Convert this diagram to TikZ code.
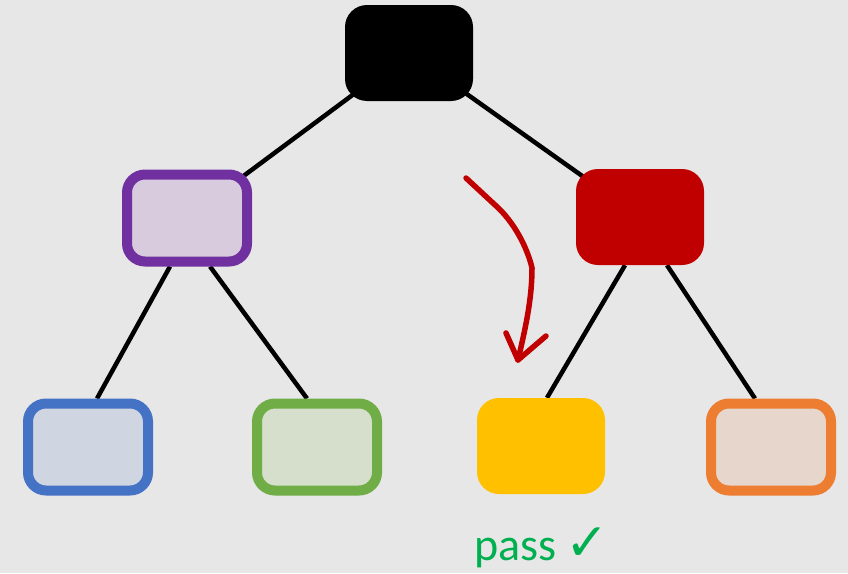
\documentclass[tikz,border=0pt]{standalone}
\usepackage{fontspec}
\setmainfont{Carlito}
\newfontfamily\symfont{DejaVu Sans}
\pgfdeclarelayer{bg}
\pgfdeclarelayer{edges}
\pgfsetlayers{bg,edges,main}
\definecolor{bgc}{HTML}{E7E7E7}
\definecolor{pur}{HTML}{7030A0}
\definecolor{purf}{HTML}{D8CBDD}
\definecolor{blu}{HTML}{4472C4}
\definecolor{bluf}{HTML}{CFD5E1}
\definecolor{grn}{HTML}{70AD47}
\definecolor{grnf}{HTML}{D5DFCC}
\definecolor{org}{HTML}{ED7D31}
\definecolor{orgf}{HTML}{E7D6CB}
\definecolor{yel}{HTML}{FFC000}
\definecolor{redc}{HTML}{C00000}
\definecolor{passg}{HTML}{00B050}
\tikzset{
  x=1pt, y=-1pt,
  solidbox/.style={rectangle, rounded corners=22pt, minimum width=128pt, minimum height=96pt, inner sep=0pt},
  ringbox/.style={rectangle, rounded corners=18pt, minimum width=120pt, minimum height=87pt, inner sep=0pt, line width=10pt},
  edge/.style={line width=4.5pt, black},
}
\begin{document}
\begin{tikzpicture}
\begin{pgfonlayer}{bg}
\fill[bgc] (0,0) rectangle (848,573);
\end{pgfonlayer}
\useasboundingbox (0,0) rectangle (848,573);

\node[solidbox, fill=black] (root) at (409,53) {};
\node[ringbox, draw=pur, fill=purf] (L) at (187,218) {};
\node[solidbox, fill=redc] (R) at (640,217) {};
\node[ringbox, draw=blu, fill=bluf] (LL) at (88,447) {};
\node[ringbox, draw=grn, fill=grnf] (LR) at (317,447) {};
\node[solidbox, fill=yel] (RL) at (541,446) {};
\node[ringbox, draw=org, fill=orgf] (RR) at (771,447) {};

\begin{pgfonlayer}{edges}
\draw[edge] (root.center) -- (L.center);
\draw[edge] (root.center) -- (R.center);
\draw[edge] ([xshift=-17pt]L.south) -- ([xshift=9pt]LL.north);
\draw[edge] ([xshift=23pt]L.south) -- ([xshift=-10pt]LR.north);
\draw[edge] ([xshift=-15pt]R.south) -- ([xshift=6pt]RL.north);
\draw[edge] ([xshift=27pt]R.south) -- ([xshift=-16pt]RR.north);
\end{pgfonlayer}

\coordinate (a0) at (466,178);
\coordinate (a1) at (518,360);
\draw[redc, line width=5.5pt, line join=round, line cap=round]
  (a0) -- (494,204) .. controls (515,222) and (528,250) .. (532,268)
  .. controls (532,300) and (525,330) .. (a1);
\draw[redc, line width=5.5pt, line join=round, line cap=round]
  (506,333) -- (a1) -- (546,336);

\node[text=passg, font=\fontsize{46}{50}\selectfont, inner sep=0pt, anchor=base] (pass) at (542,560) {pass\hspace{0.2em}{\symfont\fontsize{52}{56}\selectfont ✓}};
\end{tikzpicture}
\end{document}
